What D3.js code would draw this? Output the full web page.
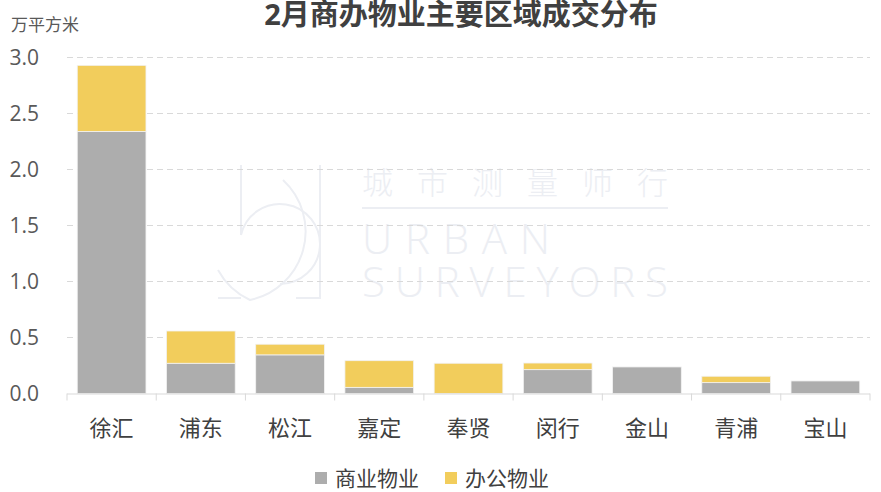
<!DOCTYPE html>
<html>
<head>
<meta charset="utf-8">
<script src="https://cdn.jsdelivr.net/npm/d3@7"></script>
<style>
  body { margin: 0; background: #fff; }
  text { font-family: "Open Sans", "Noto Sans CJK SC", sans-serif; }
</style>
</head>
<body>
<div id="chart"></div>
<script>
// data (万平方米)
var districts = ["徐汇", "浦东", "松江", "嘉定", "奉贤", "闵行", "金山", "青浦", "宝山"];
var commercial = [2.34, 0.27, 0.345, 0.055, 0, 0.213, 0.237, 0.097, 0.112];
var office = [0.59, 0.288, 0.095, 0.238, 0.27, 0.059, 0, 0.057, 0];
var yTicks = [0, 0.5, 1.0, 1.5, 2.0, 2.5, 3.0];
var seriesNames = ["商业物业", "办公物业"];
var colors = ["#adadad", "#f2cd5c"];

function init() {
    var w = 881, h = 492;
    var left = 67, right = 870, top = 57.5, bottom = 393.5;

    var svg = d3.select("#chart").append("svg")
        .attr("width", w)
        .attr("height", h);

    // watermark, very faint
    var wm = svg.append("g").attr("fill", "#eceef3");
    wm.append("text").attr("x", 362).attr("y", 194).attr("font-size", 31)
        .attr("textLength", 306).attr("lengthAdjust", "spacing")
        .attr("font-family", "'Noto Sans CJK SC', sans-serif")
        .attr("font-weight", 300).text("城市测量师行");
    wm.append("line").attr("x1", 362).attr("x2", 668).attr("y1", 208).attr("y2", 208)
        .attr("stroke", "#eceef3").attr("stroke-width", 2);
    wm.append("text").attr("x", 362).attr("y", 254).attr("font-size", 42)
        .attr("textLength", 188).attr("lengthAdjust", "spacing")
        .attr("font-weight", 300).text("URBAN");
    wm.append("text").attr("x", 362).attr("y", 297).attr("font-size", 42)
        .attr("textLength", 306).attr("lengthAdjust", "spacing")
        .attr("font-weight", 300).text("SURVEYORS");
    var logo = svg.append("g").attr("fill", "none").attr("stroke", "#eceef3").attr("stroke-width", 2);
    logo.append("path").attr("d", "M241,165V235M320,165V298H296M241,298H218");
    logo.append("path").attr("d", "M241,235A40,40 0 1 1 280,284");
    logo.append("path").attr("d", "M283,180A70,70 0 0 1 250,300A70,70 0 0 1 218,270");

    var table = districts.map(function(d, i) {
        return { district: d, c: commercial[i], o: office[i] };
    });
    var stack = d3.stack().keys(["c", "o"])(table);

    var xScale = d3.scaleBand()
        .domain(districts)
        .range([left, right])
        .paddingInner(0.23)
        .paddingOuter(0.115);

    var yScale = d3.scaleLinear()
        .domain([0, 3])
        .range([bottom, top]);

    // gridlines
    svg.append("g").selectAll("line")
        .data(yTicks.filter(function(t) { return t > 0; }))
        .enter().append("line")
        .attr("x1", left).attr("x2", right)
        .attr("y1", function(d) { return yScale(d); })
        .attr("y2", function(d) { return yScale(d); })
        .attr("stroke", "#d9d9d9")
        .attr("stroke-dasharray", "6,4");

    // bars
    svg.append("g").selectAll("g")
        .data(stack)
        .enter().append("g")
        .attr("fill", function(d, i) { return colors[i]; })
        .selectAll("rect")
        .data(function(d) { return d; })
        .enter().append("rect")
        .filter(function(d) { return d[1] - d[0] > 0; })
        .attr("x", function(d) { return xScale(d.data.district); })
        .attr("width", xScale.bandwidth())
        .attr("y", function(d) { return yScale(d[1]); })
        .attr("height", function(d) { return yScale(d[0]) - yScale(d[1]); })
        .attr("stroke", "#f2f2f2")
        .attr("stroke-width", 0.8);

    // y axis labels
    var yAxis = d3.axisLeft(yScale)
        .tickValues(yTicks)
        .tickFormat(d3.format(".1f"))
        .tickSize(0)
        .tickPadding(0);
    var gy = svg.append("g")
        .attr("transform", "translate(39,0)")
        .call(yAxis);
    gy.select(".domain").remove();
    gy.selectAll("text")
        .attr("font-size", 21)
        .attr("fill", "#595959")
        .attr("font-family", "'Open Sans', sans-serif");

    // x axis
    var xAxis = d3.axisBottom(xScale).tickSize(0).tickPadding(27);
    var gx = svg.append("g")
        .attr("transform", "translate(0," + bottom + ")")
        .call(xAxis);
    gx.select(".domain").attr("stroke", "#d9d9d9").attr("d", "M" + left + ",0.5H" + right);
    gx.selectAll("text")
        .attr("font-size", 22)
        .attr("fill", "#404040")
        .attr("font-family", "'Noto Sans CJK SC', sans-serif");

    // boundary ticks
    var step = xScale.step();
    var bounds = d3.range(districts.length + 1).map(function(i) {
        return xScale(districts[0]) - xScale.paddingInner() * step / 2 + i * step;
    });
    gx.append("g").selectAll("line")
        .data(bounds)
        .enter().append("line")
        .attr("x1", function(d) { return d; })
        .attr("x2", function(d) { return d; })
        .attr("y1", 0).attr("y2", 7)
        .attr("stroke", "#d9d9d9");

    // title and unit
    svg.append("text")
        .attr("x", 461).attr("y", 25)
        .attr("text-anchor", "middle")
        .attr("font-size", 29)
        .attr("font-weight", "bold")
        .attr("fill", "#404040")
        .attr("font-family", "'Noto Sans CJK SC', sans-serif")
        .text("2月商办物业主要区域成交分布");

    svg.append("text")
        .attr("x", 11).attr("y", 31)
        .attr("font-size", 17)
        .attr("fill", "#595959")
        .attr("font-family", "'Noto Sans CJK SC', sans-serif")
        .text("万平方米");

    // legend
    var legendX = [315, 445];
    var lg = svg.append("g").selectAll("g")
        .data(seriesNames)
        .enter().append("g")
        .attr("transform", function(d, i) { return "translate(" + legendX[i] + ",472)"; });
    lg.append("rect")
        .attr("width", 12).attr("height", 12)
        .attr("fill", function(d, i) { return colors[i]; });
    lg.append("text")
        .attr("x", 20).attr("y", 13.5)
        .attr("font-size", 21)
        .attr("fill", "#404040")
        .attr("font-family", "'Noto Sans CJK SC', sans-serif")
        .text(function(d) { return d; });
}

window.onload = init;
</script>
</body>
</html>
